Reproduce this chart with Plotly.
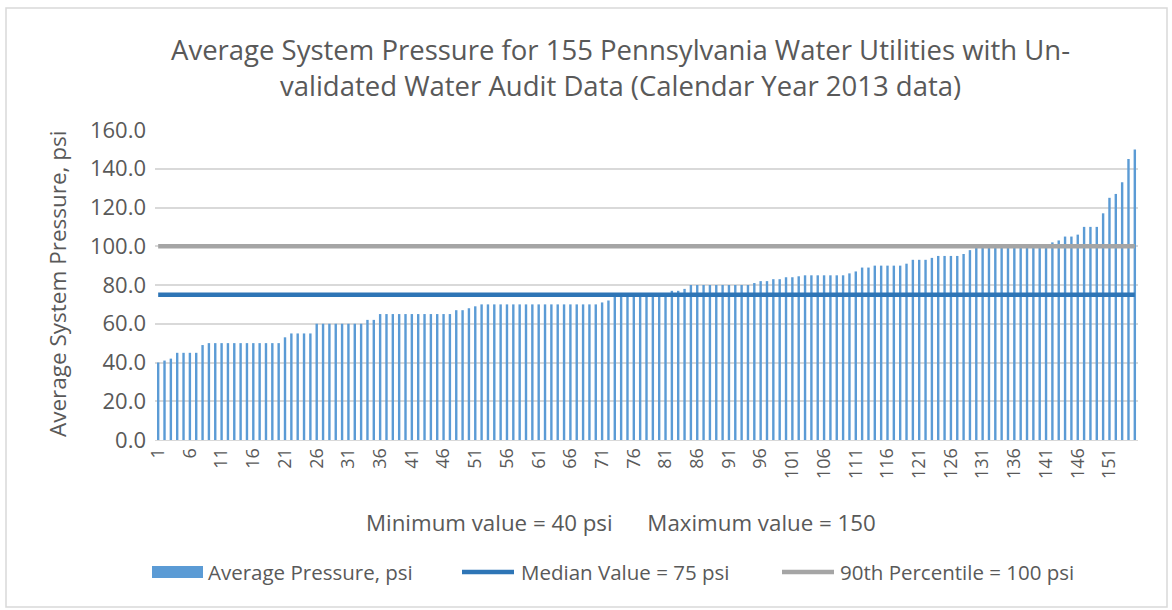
import plotly.graph_objects as go

# ---- data ----
utility_rank = list(range(1, 156))
avg_pressure = (
    [40, 41, 42, 45, 45, 45, 45, 49]
    + [50] * 12
    + [53, 55, 55, 55, 55]
    + [60] * 8
    + [62, 62]
    + [65] * 12
    + [67, 67, 68, 69]
    + [70] * 19
    + [71, 72]
    + [75] * 9
    + [77, 77, 78]
    + [80] * 10
    + [81, 82, 82, 83, 83, 84, 84, 84.5]
    + [85] * 7
    + [86, 87, 89, 89]
    + [90] * 5
    + [91, 93, 93, 93, 94, 95, 95, 95, 95, 96, 98]
    + [100] * 12
    + [102, 103, 105, 105, 106, 110, 110, 110, 117, 125, 127, 133, 145, 150]
)
median_value = 75
p90_value = 100
tick_positions = list(range(1, 156, 5))
tick_labels = [str(v) for v in tick_positions]
y_ticks = [0, 20, 40, 60, 80, 100, 120, 140, 160]

series_names = ["Average Pressure, psi", "Median Value = 75 psi", "90th Percentile = 100 psi"]
series_colors = ["#5B9BD5", "#2E75B6", "#A5A5A5"]
title_text = ("Average System Pressure for 155 Pennsylvania Water Utilities with Un-<br>"
              "validated Water Audit Data (Calendar Year 2013 data)")
note_text = "Minimum value = 40 psi&nbsp;&nbsp;&nbsp;&nbsp;&nbsp;&nbsp;Maximum value = 150"

FONT = "Open Sans"
GREY = "#595959"

# plot area in pixels (for paper-coordinate helpers)
PL, PR, PT, PB = 155, 1138, 130, 440
def px(x):
    return (x - PL) / (PR - PL)
def py(y):
    return (PB - y) / (PB - PT)

fig = go.Figure()
fig.add_trace(go.Bar(
    x=utility_rank, y=avg_pressure, name=series_names[0],
    marker=dict(color=series_colors[0], line=dict(width=0)),
))
fig.add_trace(go.Scatter(
    x=utility_rank, y=[median_value] * len(utility_rank), mode="lines",
    name=series_names[1], line=dict(color=series_colors[1], width=4.5),
))
fig.add_trace(go.Scatter(
    x=utility_rank, y=[p90_value] * len(utility_rank), mode="lines",
    name=series_names[2], line=dict(color=series_colors[2], width=4.5),
))

# custom legend (swatches + labels)
leg_y = 572
shapes = [
    dict(type="rect", xref="paper", yref="paper",
         x0=px(6), x1=px(1167), y0=py(607), y1=py(8),
         line=dict(color="#D9D9D9", width=1.5), fillcolor="rgba(0,0,0,0)", layer="below"),
    dict(type="rect", xref="paper", yref="paper",
         x0=px(152), x1=px(203), y0=py(leg_y + 6), y1=py(leg_y - 6),
         line=dict(width=0), fillcolor=series_colors[0]),
    dict(type="line", xref="paper", yref="paper",
         x0=px(462), x1=px(514), y0=py(leg_y), y1=py(leg_y),
         line=dict(color=series_colors[1], width=4.5)),
    dict(type="line", xref="paper", yref="paper",
         x0=px(782), x1=px(834), y0=py(leg_y), y1=py(leg_y),
         line=dict(color=series_colors[2], width=4.5)),
]
legend_text_x = [206, 519, 838]
annotations = [
    dict(text=series_names[i], xref="paper", yref="paper", x=px(legend_text_x[i]), y=py(leg_y),
         xanchor="left", yanchor="middle", showarrow=False,
         font=dict(size=20.5, color=GREY, family=FONT))
    for i in range(3)
]
annotations.append(dict(
    text=note_text, xref="paper", yref="paper", x=px(621), y=py(522),
    xanchor="center", yanchor="middle", showarrow=False,
    font=dict(size=22.3, color=GREY, family=FONT),
))
annotations.append(dict(
    text="Average System Pressure, psi", xref="paper", yref="paper",
    x=px(57), y=py(284), xanchor="center", yanchor="middle", textangle=-90,
    showarrow=False, font=dict(size=22.5, color=GREY, family=FONT),
))
annotations.append(dict(
    text=title_text, xref="paper", yref="paper", x=px(620), y=py(67),
    xanchor="center", yanchor="middle", showarrow=False,
    font=dict(size=27.5, color=GREY, family=FONT),
))

fig.update_layout(
    width=1172, height=610,
    margin=dict(l=PL, r=1172 - PR, t=PT, b=610 - PB, autoexpand=False),
    paper_bgcolor="white", plot_bgcolor="white",
    bargap=0.62,
    font=dict(family=FONT, color=GREY),
    showlegend=False,
    xaxis=dict(
        range=[0.5, 155.5], tickmode="array", tickvals=tick_positions, ticktext=tick_labels,
        tickangle=-90, tickfont=dict(size=18, color=GREY), showgrid=False,
        showline=True, linecolor="#D9D9D9", linewidth=1, ticks="",
        zeroline=False, automargin=False,
    ),
    yaxis=dict(
        range=[0, 160], tickmode="array", tickvals=y_ticks,
        tickformat=".1f", tickfont=dict(size=22, color=GREY), ticklabelstandoff=8,
        showgrid=True, gridcolor="#D9D9D9", gridwidth=1.5,
        zeroline=False, showline=False, ticks="", automargin=False,
    ),
    shapes=shapes,
    annotations=annotations,
)

fig.write_html("out.html", config={"displayModeBar": False},
               post_script="document.body.style.margin='0';")
